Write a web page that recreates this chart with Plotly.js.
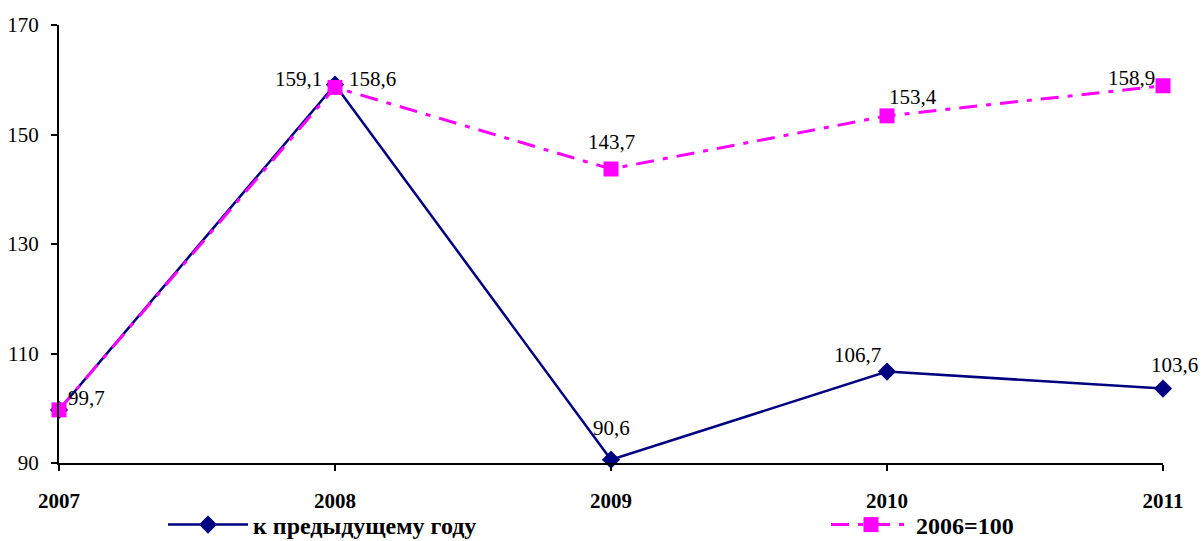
<!DOCTYPE html>
<html>
<head>
<meta charset="utf-8">
<script src="https://cdn.plot.ly/plotly-3.0.1.min.js"></script>
<style>html,body{margin:0;padding:0;background:#fff}#chart{width:1203px;height:541px}</style>
</head>
<body>
<div id="chart"></div>
<script>
const years = ['2007', '2008', '2009', '2010', '2011'];
const prevYear = [99.7, 159.1, 90.6, 106.7, 103.6];
const base2006 = [99.7, 158.6, 143.7, 153.4, 158.9];
const seriesNames = ['к предыдущему году', '2006=100'];
const yTicks = [90, 110, 130, 150, 170];

// label offsets (pixels) for data labels; null = label not shown
const prevYearLabelOffsets = [null, [-37, -6], [0, -32], [-30, -17], [11, -24]];
const baseLabelOffsets = [[27, -12], [37, -8], [0, -27], [26, -19], [-32, -8]];

const FONT = 'Liberation Serif';
const fmt = v => v.toFixed(1).replace('.', ',');
const xIdx = years.map((_, i) => i);

const labelFont = {family: FONT, size: 21, color: '#000'};
const annotations = [];
function addLabels(vals, offs) {
  vals.forEach((v, i) => {
    if (!offs[i]) return;
    annotations.push({x: xIdx[i], y: v, xref: 'x', yref: 'y', text: fmt(v), showarrow: false,
      xshift: offs[i][0], yshift: -offs[i][1], font: labelFont, xanchor: 'center', yanchor: 'middle'});
  });
}
addLabels(prevYear, prevYearLabelOffsets);
addLabels(base2006, baseLabelOffsets);

const traces = [
  {x: xIdx, y: prevYear, name: seriesNames[0], type: 'scatter', mode: 'lines+markers',
   legend: 'legend',
   line: {color: '#000080', width: 2.5},
   marker: {symbol: 'diamond', size: 14, color: '#000080'}, cliponaxis: false},
  {x: xIdx, y: base2006, name: seriesNames[1], type: 'scatter', mode: 'lines+markers',
   legend: 'legend2',
   line: {color: '#FF00FF', width: 3, dash: '18px,9px,5px,9px'},
   marker: {symbol: 'square', size: 15, color: '#FF00FF'}, cliponaxis: false}
];

const legendFont = {family: FONT, size: 24, color: '#000', weight: 'bold'};
const legendBase = {orientation: 'h', yref: 'container', y: 16 / 541, xanchor: 'left', yanchor: 'middle',
  itemwidth: 80, font: legendFont, bgcolor: 'rgba(0,0,0,0)'};

const layout = {
  width: 1203, height: 541,
  margin: {l: 59, r: 40, t: 25, b: 78},
  paper_bgcolor: '#fff', plot_bgcolor: '#fff',
  showlegend: true,
  legend: Object.assign({}, legendBase, {x: (163 - 59) / 1104}),
  legend2: Object.assign({}, legendBase, {x: (826 - 59) / 1104}),
  xaxis: {range: [0, 4], tickvals: xIdx, ticktext: years.map(y => '<b>' + y + '</b>'),
    showgrid: false, zeroline: false, showline: true, linecolor: '#000', linewidth: 2,
    ticks: 'outside', ticklen: 6, tickwidth: 2, tickcolor: '#000', ticklabelstandoff: 12,
    tickfont: {family: FONT, size: 21, color: '#000'}},
  yaxis: {range: [90, 170], tickvals: yTicks, showgrid: false, zeroline: false,
    showline: true, linecolor: '#000', linewidth: 2,
    ticks: 'outside', ticklen: 6, tickwidth: 2, tickcolor: '#000', ticklabelstandoff: 8,
    tickfont: {family: FONT, size: 21, color: '#000'}},
  annotations: annotations
};

Plotly.newPlot('chart', traces, layout, {displayModeBar: false, staticPlot: true});
</script>
</body>
</html>
